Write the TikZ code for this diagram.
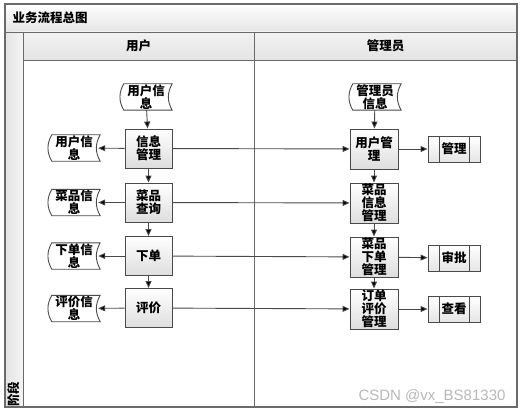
\documentclass[tikz,border=0pt]{standalone}
\usepackage{fontspec}
\setmainfont{Noto Sans CJK SC}
\newfontfamily\markfont{Liberation Sans}
\usetikzlibrary{arrows.meta}
\definecolor{linegray}{HTML}{4A4A4A}
\definecolor{framegray}{HTML}{6A6A6A}
\definecolor{headgray}{HTML}{E4E4E4}
\begin{document}
\begin{tikzpicture}[x=1pt, y=-1pt, >={Triangle[length=7pt,width=6pt]},
  every node/.style={font=\bfseries\fontsize{12.5}{13}\selectfont, align=center},
  flow/.style={->, draw=linegray, line width=0.9pt},
  procbox/.style={draw=linegray, line width=0.9pt, top color=white, bottom color=black!13, minimum width=47pt, minimum height=39pt, inner sep=0.5pt},
  datafile/.style={minimum width=48pt, minimum height=26pt, inner sep=0pt},
  predef/.style={draw=linegray, line width=0.9pt, top color=white, bottom color=black!10, minimum width=52pt, minimum height=26pt, inner sep=0pt,
    path picture={\draw[linegray, line width=0.9pt] ([xshift=11pt]path picture bounding box.north west) -- ([xshift=11pt]path picture bounding box.south west);
      \draw[linegray, line width=0.9pt] ([xshift=-11pt]path picture bounding box.north east) -- ([xshift=-11pt]path picture bounding box.south east);}}]
\useasboundingbox (0,0) rectangle (521,414);
% frame and lanes
\shade[top color=white, bottom color=headgray] (5,4) rectangle (517,32);
\shade[left color=headgray, right color=white!60!headgray] (5,32) rectangle (23,407);
\shade[top color=white!50!headgray, bottom color=headgray] (23,32) rectangle (517,60);
\draw[framegray, line width=1.3pt] (5,4) rectangle (517,407);
\draw[framegray, line width=0.9pt] (5,32) -- (517,32);
\draw[framegray, line width=0.9pt] (23,32) -- (23,407);
\draw[framegray, line width=0.9pt] (23,60) -- (517,60);
\draw[framegray, line width=0.9pt] (254,32) -- (254,407);
\node[anchor=west] (title) at (9,18) {业务流程总图};
\node (laneuser) at (138.5,46) {用户};
\node (laneadmin) at (385.5,46) {管理员};
\node[rotate=90] (stage) at (14,394) {阶段};
\node[text=black!28, font=\markfont\fontsize{15}{15}\selectfont, anchor=east] (mark) at (509,397) {CSDN @vx\_BS81330};
% user lane
\node[datafile] (uinfo) at (146,97) {用户信\\息};
\node[procbox] (infomgr) at (148.5,148.5) {信息\\管理};
\node[procbox] (dishq) at (148.5,202.5) {菜品\\查询};
\node[procbox] (order) at (148.5,256) {下单};
\node[procbox] (review) at (148.5,308) {评价};
\node[datafile] (uinfo2) at (74,148) {用户信\\息};
\node[datafile] (dishinfo) at (74,202.5) {菜品信\\息};
\node[datafile] (orderinfo) at (74,256) {下单信\\息};
\node[datafile] (reviewinfo) at (74,308.5) {评价信\\息};
% admin lane
\node[datafile] (ainfo) at (375,97) {管理员\\信息};
\node[procbox, minimum width=48pt, minimum height=40pt] (usermgr) at (374,149) {用户管\\理};
\node[procbox, minimum width=48pt, minimum height=40pt] (dishmgr) at (374,203) {菜品\\信息\\管理};
\node[procbox, minimum width=48pt, minimum height=40pt] (ordermgr) at (374,257) {菜品\\下单\\管理};
\node[procbox, minimum width=48pt, minimum height=40pt] (reviewmgr) at (374,309) {订单\\评价\\管理};
\node[predef] (manage) at (454,149) {管理};
\node[predef] (approve) at (454,258) {审批};
\node[predef] (check) at (454,309) {查看};
% stored data outlines
\foreach \d in {uinfo,uinfo2,dishinfo,orderinfo,reviewinfo,ainfo}
  \draw[linegray, line width=0.9pt] ([xshift=2pt]\d.north west) to[bend right=30] ([xshift=2pt]\d.south west)
    -- ([xshift=2pt]\d.south east) to[bend left=30] ([xshift=2pt]\d.north east) -- cycle;
% flows
\draw [flow] (uinfo) edge (infomgr);
\draw [flow] (infomgr) edge (dishq);
\draw [flow] (dishq) edge (order);
\draw [flow] (order) edge (review);
\draw [flow] (infomgr) edge (uinfo2);
\draw [flow] (dishq) edge (dishinfo);
\draw [flow] (order) edge (orderinfo);
\draw [flow] (review) edge (reviewinfo);
\draw [flow] (infomgr) edge (usermgr);
\draw [flow] (dishq) edge (dishmgr);
\draw [flow] (order) edge (ordermgr);
\draw [flow] (review) edge (reviewmgr);
\draw [flow] (ainfo) edge (usermgr);
\draw [flow] (usermgr) edge (dishmgr);
\draw [flow] (dishmgr) edge (ordermgr);
\draw [flow] (ordermgr) edge (reviewmgr);
\draw [flow] (usermgr) edge (manage);
\draw [flow] (ordermgr) edge (approve);
\draw [flow] (reviewmgr) edge (check);
\end{tikzpicture}
\end{document}
